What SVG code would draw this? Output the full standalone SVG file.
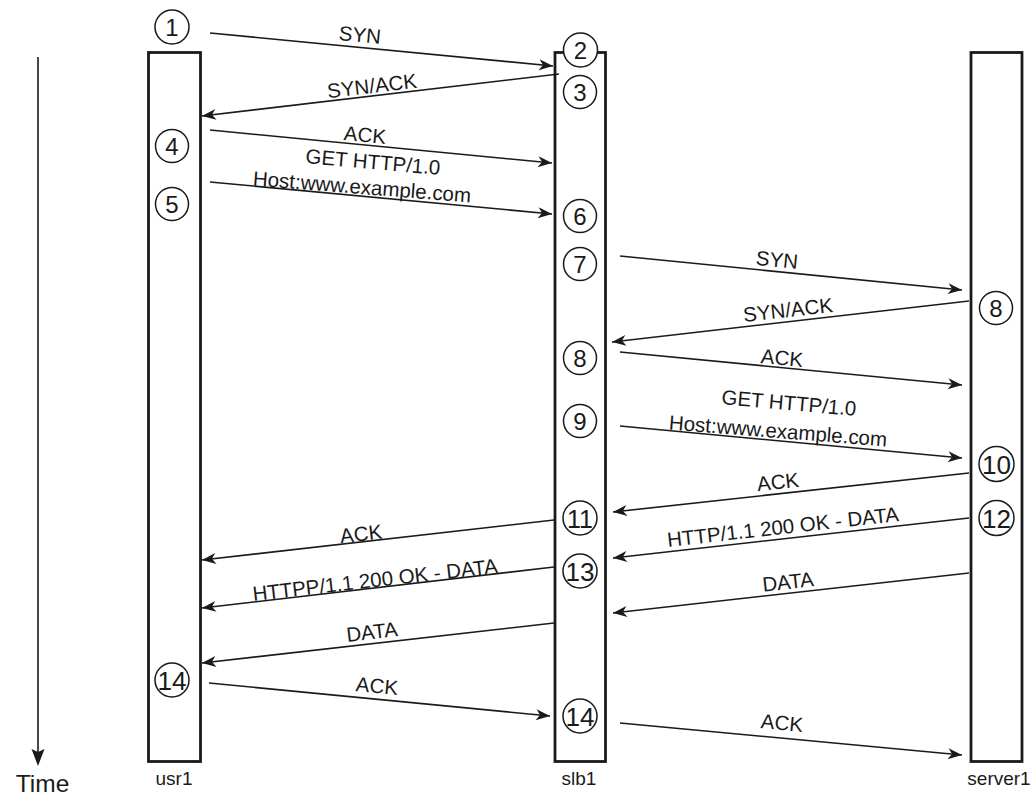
<svg xmlns="http://www.w3.org/2000/svg" width="1035" height="798" viewBox="0 0 1035 798">
<style>
.box{fill:#fff;stroke:#1a1a1a;stroke-width:2.8}
.msg{fill:none;stroke:#1a1a1a;stroke-width:1.6;marker-end:url(#ah)}
.c{fill:#fff;stroke:#1a1a1a;stroke-width:1.5}
.n{font-family:"Liberation Sans",Arial,sans-serif;font-size:24px;fill:#1a1a1a;text-anchor:middle}
.n2{font-family:"Liberation Sans",Arial,sans-serif;font-size:26px;fill:#1a1a1a;text-anchor:middle}
.lb{font-family:"Liberation Sans",Arial,sans-serif;font-size:20.5px;fill:#1a1a1a;text-anchor:middle}
.nm{font-family:"Liberation Sans",Arial,sans-serif;font-size:19px;fill:#1a1a1a;text-anchor:middle}
</style>
<defs>
<marker id="ah" markerUnits="userSpaceOnUse" markerWidth="16" markerHeight="12" viewBox="-15 -6 16 12" refX="0" refY="0" orient="auto">
<path d="M0,0 L-14,-5.5 L-10,0 L-14,5.5 Z" fill="#1a1a1a"/>
</marker>
</defs>
<rect width="1035" height="798" fill="#fff"/>

<g id="time">
<line x1="38" y1="57" x2="38" y2="752" stroke="#1a1a1a" stroke-width="1.6"/>
<path d="M38,766 L31.5,749 L38,752 L44.5,749 Z" fill="#1a1a1a"/>
<text x="42.5" y="792" font-family="Liberation Sans, Arial, sans-serif" font-size="24.5" fill="#1a1a1a" text-anchor="middle">Time</text>
</g>

<g id="usr1">
<rect class="box" x="148.5" y="52.5" width="52" height="709"/>
<text class="nm" x="174" y="785">usr1</text>
</g>
<g id="slb1">
<rect class="box" x="555" y="52.5" width="50.5" height="709"/>
<text class="nm" x="579" y="785">slb1</text>
</g>
<g id="server1">
<rect class="box" x="971" y="52.5" width="51" height="709"/>
<text class="nm" x="999" y="785">server1</text>
</g>

<g id="connectors">
<line class="msg" x1="210" y1="33" x2="553" y2="66"/>
<line class="msg" x1="559" y1="74" x2="202" y2="116"/>
<line class="msg" x1="210" y1="130" x2="552" y2="163"/>
<line class="msg" x1="210" y1="182" x2="552" y2="214"/>
<line class="msg" x1="620" y1="256" x2="962" y2="290"/>
<line class="msg" x1="969" y1="301" x2="612" y2="342"/>
<line class="msg" x1="620" y1="352" x2="962" y2="385"/>
<line class="msg" x1="620" y1="426" x2="962" y2="458"/>
<line class="msg" x1="969" y1="473" x2="613" y2="512"/>
<line class="msg" x1="969" y1="518" x2="613" y2="558"/>
<line class="msg" x1="969" y1="573" x2="613" y2="613"/>
<line class="msg" x1="554" y1="520" x2="202" y2="560"/>
<line class="msg" x1="554" y1="567" x2="202" y2="608"/>
<line class="msg" x1="554" y1="623" x2="202" y2="663"/>
<line class="msg" x1="209" y1="683" x2="550" y2="716"/>
<line class="msg" x1="620" y1="723" x2="962" y2="755"/>

<text class="lb" transform="translate(360,35) rotate(5.5)" y="7">SYN</text>
<text class="lb" transform="translate(372,86) rotate(-6.7)" y="7">SYN/ACK</text>
<text class="lb" transform="translate(365,135) rotate(5.5)" y="7">ACK</text>
<text class="lb" transform="translate(373,162) rotate(5)" y="7">GET HTTP/1.0</text>
<text class="lb" transform="translate(362,187) rotate(4.5)" y="7">Host:www.example.com</text>
<text class="lb" transform="translate(777,260) rotate(5.7)" y="7">SYN</text>
<text class="lb" transform="translate(788,310) rotate(-6.5)" y="7">SYN/ACK</text>
<text class="lb" transform="translate(782,358) rotate(5.5)" y="7">ACK</text>
<text class="lb" transform="translate(789,403) rotate(5)" y="7">GET HTTP/1.0</text>
<text class="lb" transform="translate(778,431) rotate(4.5)" y="7">Host:www.example.com</text>
<text class="lb" transform="translate(778,482) rotate(-6.3)" y="7">ACK</text>
<text class="lb" transform="translate(783,527) rotate(-6.4)" y="7">HTTP/1.1 200 OK - DATA</text>
<text class="lb" transform="translate(788,582) rotate(-6.4)" y="7">DATA</text>
<text class="lb" transform="translate(361,534) rotate(-6.5)" y="7">ACK</text>
<text class="lb" transform="translate(375,580) rotate(-6.6)" y="7">HTTPP/1.1 200 OK - DATA</text>
<text class="lb" transform="translate(372,632) rotate(-6.5)" y="7">DATA</text>
<text class="lb" transform="translate(377,686) rotate(5.5)" y="7">ACK</text>
<text class="lb" transform="translate(782,723) rotate(5.4)" y="7">ACK</text>
</g>

<g id="step1"><circle class="c" cx="172" cy="27" r="17"/><text class="n" x="172" y="35.5">1</text></g>
<g id="step2"><circle class="c" cx="580.5" cy="50" r="17"/><text class="n" x="580.5" y="58.5">2</text></g>
<g id="step3"><circle class="c" cx="580" cy="92" r="16.5"/><text class="n" x="580" y="100.5">3</text></g>
<g id="step4"><circle class="c" cx="172" cy="146" r="16.5"/><text class="n" x="172" y="154.5">4</text></g>
<g id="step5"><circle class="c" cx="172" cy="204" r="16.5"/><text class="n" x="172" y="212.5">5</text></g>
<g id="step6"><circle class="c" cx="580" cy="216" r="16.5"/><text class="n" x="580" y="224.5">6</text></g>
<g id="step7"><circle class="c" cx="580" cy="264" r="16.5"/><text class="n" x="580" y="272.5">7</text></g>
<g id="step8s"><circle class="c" cx="996" cy="308" r="16.5"/><text class="n" x="996" y="316.5">8</text></g>
<g id="step8"><circle class="c" cx="580" cy="358" r="16.5"/><text class="n" x="580" y="366.5">8</text></g>
<g id="step9"><circle class="c" cx="580" cy="421" r="16.5"/><text class="n" x="580" y="429.5">9</text></g>
<g id="step10"><circle class="c" cx="996.5" cy="464" r="17.5"/><text class="n2" x="996.5" y="473.5" textLength="29" lengthAdjust="spacingAndGlyphs">10</text></g>
<g id="step11"><circle class="c" cx="580" cy="518" r="17"/><text class="n2" x="580" y="527.5" textLength="26" lengthAdjust="spacingAndGlyphs">11</text></g>
<g id="step12"><circle class="c" cx="996.5" cy="518" r="17.5"/><text class="n2" x="996.5" y="527.5" textLength="29" lengthAdjust="spacingAndGlyphs">12</text></g>
<g id="step13"><circle class="c" cx="580" cy="571" r="17"/><text class="n2" x="580" y="580.5" textLength="29" lengthAdjust="spacingAndGlyphs">13</text></g>
<g id="step14u"><circle class="c" cx="172" cy="680" r="17"/><text class="n2" x="172" y="689.5" textLength="29" lengthAdjust="spacingAndGlyphs">14</text></g>
<g id="step14"><circle class="c" cx="580" cy="716" r="17"/><text class="n2" x="580" y="725.5" textLength="29" lengthAdjust="spacingAndGlyphs">14</text></g>
</svg>
